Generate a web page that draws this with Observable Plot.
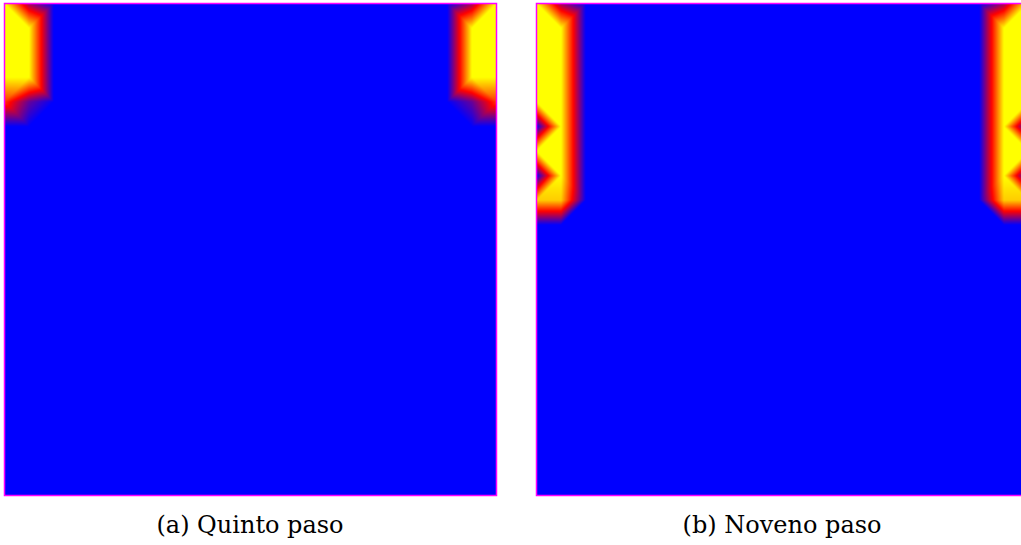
<!DOCTYPE html>
<html>
<head>
<meta charset="utf-8">
<script src="https://cdn.jsdelivr.net/npm/d3@7"></script>
<script src="https://cdn.jsdelivr.net/npm/@observablehq/plot@0.6"></script>
<style>
  html, body { margin: 0; padding: 0; background: #fff; overflow: hidden; }
  #page { position: relative; width: 1021px; height: 545px; overflow: hidden; background: #fff; }
  .panel { position: absolute; top: 0; width: 500px; height: 498px; }
  .panel svg { max-width: none !important; display: block; }
  .caption { position: absolute; top: 513px; width: 400px; text-align: center;
             font-family: "DejaVu Serif", serif; font-size: 24px; line-height: 24px; color: #000; white-space: pre; }
</style>
</head>
<body>
<div id="page">
  <div class="panel" id="pa" style="left:0px"></div>
  <div class="panel" id="pb" style="left:532px"></div>
  <div class="caption" id="ca" style="left:50px"></div>
  <div class="caption" id="cb" style="left:582px"></div>
</div>
<script>
// Grid node values (21 x 21 nodes), one string per row (three 7-character groups);
// "X" = 1.0, digit d = d/10
const quintoRows = [
  "X300000" + "0000000" + "000003X",
  "XX00000" + "0000000" + "00000XX",
  "XX00000" + "0000000" + "00000XX",
  "XX00000" + "0000000" + "00000XX",
  "6200000" + "0000000" + "0000026",
  "0000000" + "0000000" + "0000000",
  "0000000" + "0000000" + "0000000",
  "0000000" + "0000000" + "0000000",
  "0000000" + "0000000" + "0000000",
  "0000000" + "0000000" + "0000000",
  "0000000" + "0000000" + "0000000",
  "0000000" + "0000000" + "0000000",
  "0000000" + "0000000" + "0000000",
  "0000000" + "0000000" + "0000000",
  "0000000" + "0000000" + "0000000",
  "0000000" + "0000000" + "0000000",
  "0000000" + "0000000" + "0000000",
  "0000000" + "0000000" + "0000000",
  "0000000" + "0000000" + "0000000",
  "0000000" + "0000000" + "0000000",
  "0000000" + "0000000" + "0000000"
];
const novenoRows = [
  "X300000" + "0000000" + "000003X",
  "XX00000" + "0000000" + "00000XX",
  "XX00000" + "0000000" + "00000XX",
  "XX00000" + "0000000" + "00000XX",
  "XX00000" + "0000000" + "00000XX",
  "0X00000" + "0000000" + "00000X0",
  "XX00000" + "0000000" + "00000XX",
  "0X00000" + "0000000" + "00000X0",
  "9900000" + "0000000" + "0000099",
  "0000000" + "0000000" + "0000000",
  "0000000" + "0000000" + "0000000",
  "0000000" + "0000000" + "0000000",
  "0000000" + "0000000" + "0000000",
  "0000000" + "0000000" + "0000000",
  "0000000" + "0000000" + "0000000",
  "0000000" + "0000000" + "0000000",
  "0000000" + "0000000" + "0000000",
  "0000000" + "0000000" + "0000000",
  "0000000" + "0000000" + "0000000",
  "0000000" + "0000000" + "0000000",
  "0000000" + "0000000" + "0000000"
];
const captions = ["(a) Quinto paso", "(b) Noveno paso"];
const colorStops = [0, 0.5, 1];
const colorRange = ["#0000ff", "#ff0000", "#ffff00"];

const COLS = 21, ROWS = 21;

function toTable(rows) {
  const out = [];
  rows.forEach((s, r) => {
    s.split("").forEach((ch, c) => out.push({c, r, v: ch === "X" ? 1 : (+ch) / 10}));
  });
  return out;
}

// Piecewise-linear interpolation over the regular node grid, each quad split
// along alternating (checkerboard) diagonals.
function checkerInterpolate(cols, rows) {
  return (index, width, height, X, Y, V) => {
    let x0 = Infinity, x1 = -Infinity, y0 = Infinity, y1 = -Infinity;
    for (const i of index) {
      if (X[i] < x0) x0 = X[i]; if (X[i] > x1) x1 = X[i];
      if (Y[i] < y0) y0 = Y[i]; if (Y[i] > y1) y1 = Y[i];
    }
    const G = new Float64Array(cols * rows);
    for (const i of index) {
      const c = Math.round((X[i] - x0) / (x1 - x0) * (cols - 1));
      const r = Math.round((Y[i] - y0) / (y1 - y0) * (rows - 1));
      G[r * cols + c] = +V[i];
    }
    const out = new Float64Array(width * height);
    for (let py = 0; py < height; py++) {
      let gy = (py + 0.5 - y0) / (y1 - y0) * (rows - 1);
      gy = Math.max(0, Math.min(rows - 1, gy));
      const r = Math.min(rows - 2, Math.floor(gy));
      const v = gy - r;
      for (let px = 0; px < width; px++) {
        let gx = (px + 0.5 - x0) / (x1 - x0) * (cols - 1);
        gx = Math.max(0, Math.min(cols - 1, gx));
        const c = Math.min(cols - 2, Math.floor(gx));
        const u = gx - c;
        const a = G[r * cols + c], b = G[r * cols + c + 1];
        const d = G[(r + 1) * cols + c], e = G[(r + 1) * cols + c + 1];
        let val;
        if ((c + r) % 2 === 0) {
          val = u >= v ? a + (b - a) * u + (e - b) * v : a + (d - a) * v + (e - d) * u;
        } else {
          val = u + v <= 1 ? a + (b - a) * u + (d - a) * v
                           : e + (d - e) * (1 - u) + (b - e) * (1 - v);
        }
        out[py * width + px] = val;
      }
    }
    return out;
  };
}

function panel(rows) {
  return Plot.plot({
    width: 500,
    height: 498,
    marginLeft: 4,
    marginRight: 4,
    marginTop: 3,
    marginBottom: 3,
    style: {maxWidth: "none"},
    x: {domain: [0, COLS - 1], axis: null},
    y: {domain: [0, ROWS - 1], reverse: true, axis: null},
    color: {type: "linear", domain: colorStops, range: colorRange, interpolate: "rgb"},
    marks: [
      Plot.raster(toTable(rows), {
        x: "c", y: "r", fill: "v",
        x1: 0, x2: COLS - 1, y1: 0, y2: ROWS - 1,
        interpolate: checkerInterpolate(COLS, ROWS)
      }),
      Plot.frame({stroke: "#ff00ff", strokeWidth: 1.5})
    ]
  });
}

document.getElementById("pa").appendChild(panel(quintoRows));
document.getElementById("pb").appendChild(panel(novenoRows));
document.getElementById("ca").textContent = captions[0];
document.getElementById("cb").textContent = captions[1];
</script>
</body>
</html>
